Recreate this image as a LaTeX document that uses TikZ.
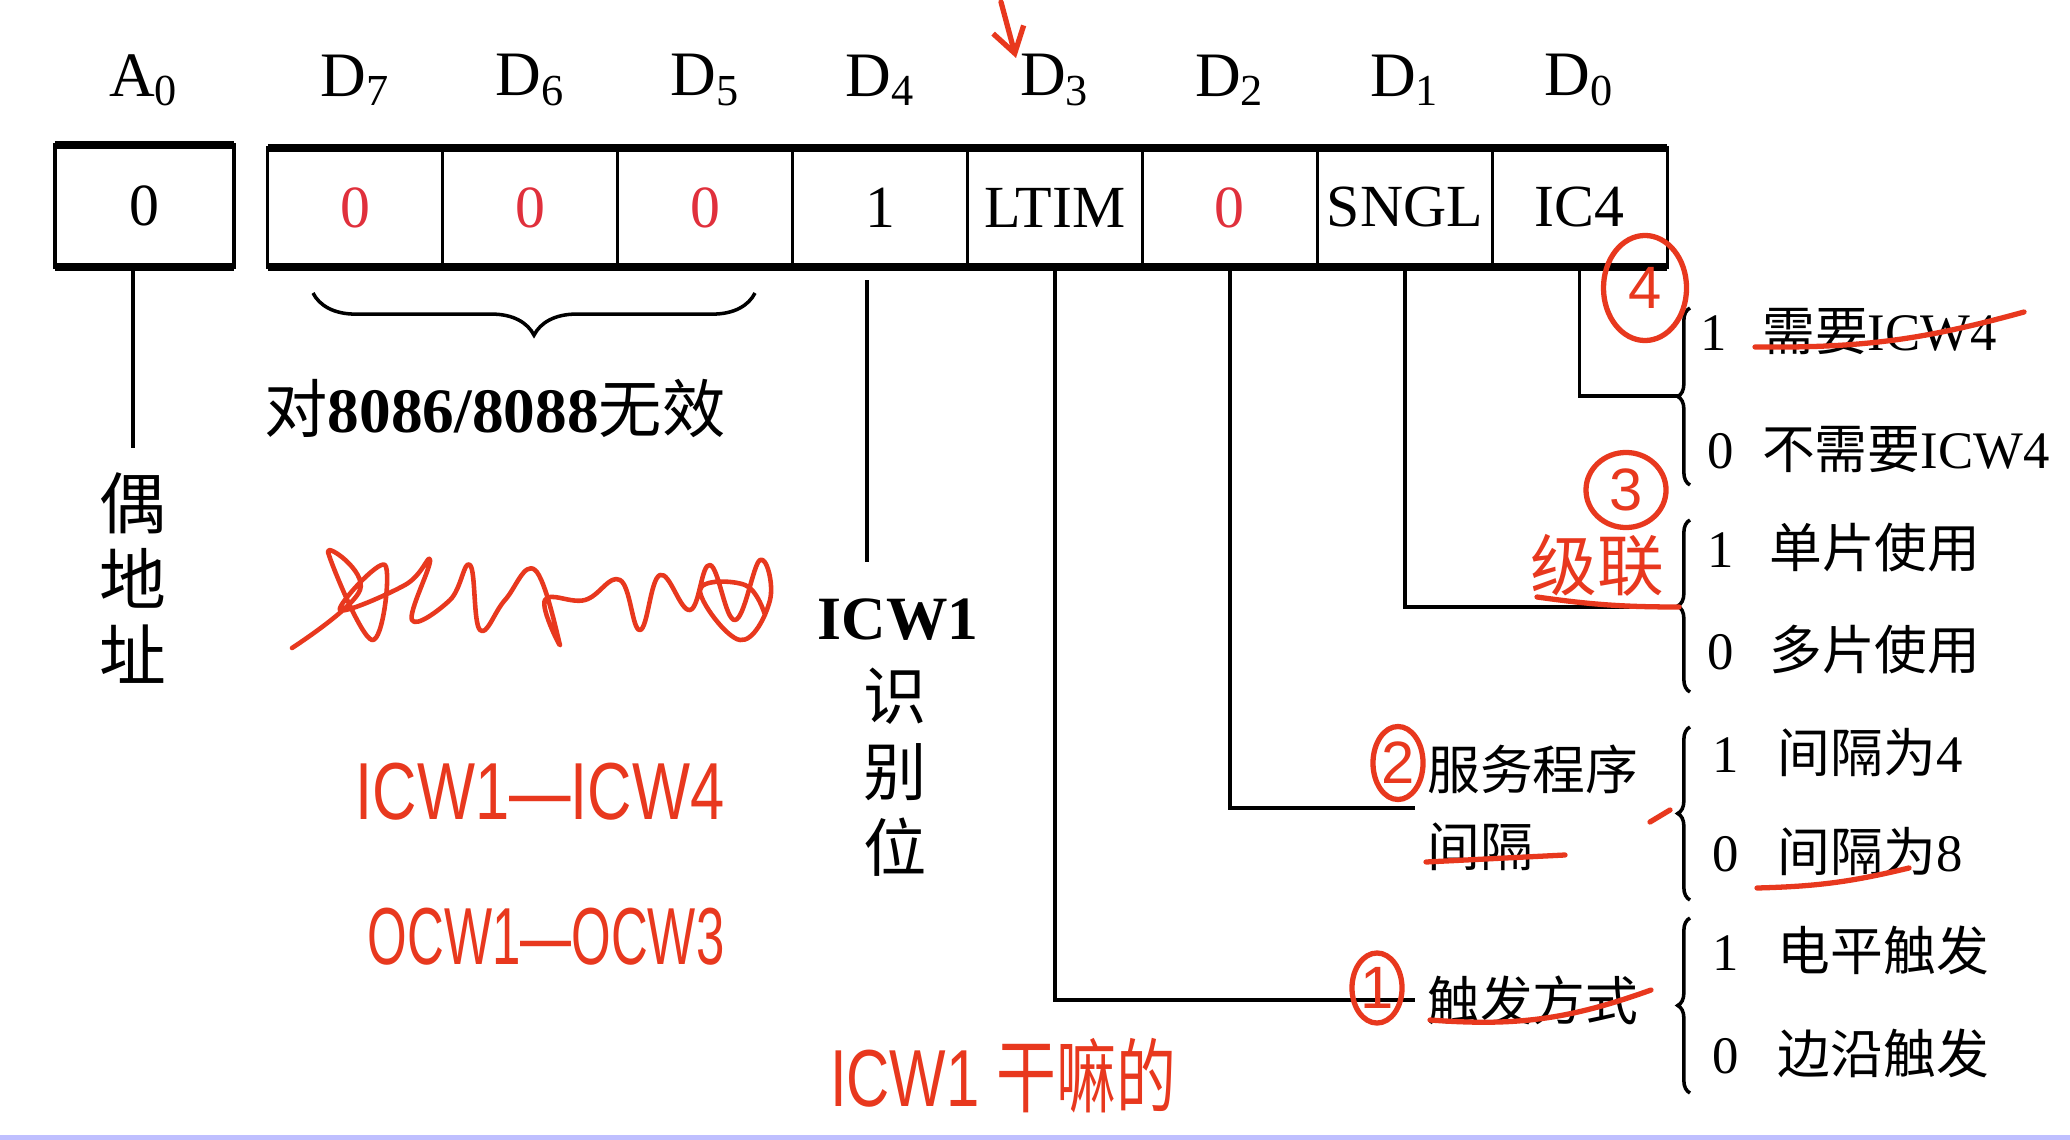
\documentclass[tikz,border=0pt]{standalone}
\usepackage{fontspec}
\setmainfont{Liberation Serif}
\newfontfamily\cjk{Noto Sans CJK SC}
\newfontfamily\hand{Liberation Sans}
\usetikzlibrary{decorations.pathreplacing,shapes.geometric,arrows.meta}
\definecolor{zerored}{HTML}{E0303C}
\definecolor{penred}{HTML}{E8381E}
\newcommand{\redzero}{\textcolor{zerored}{0}}

\begin{document}
\begin{tikzpicture}[x=0.01cm,y=-0.01cm]
    \tikzset{
        bitlabel/.style={font=\fontsize{18}{20}\selectfont},
        cell/.style={draw, line width=0.9pt, minimum width=1.749cm, minimum height=1.19cm,
            inner sep=0pt, outer sep=0pt, font=\fontsize{17}{19}\selectfont},
        rule/.style={line width=2.2pt},
        conn/.style={line width=1pt},
        vtext/.style={align=center, font=\cjk\fontsize{19}{21.6}\selectfont},
        lbl/.style={anchor=west, align=left, font=\cjk\fontsize{15}{22}\selectfont},
        opt/.style={anchor=west, inner sep=0pt, font=\fontsize{15}{17}\selectfont},
        rbrace/.style={line width=1pt, decorate, decoration={brace, amplitude=3.5pt}},
        pen/.style={penred, line width=1.5pt, line cap=round, line join=round},
        ring/.style={ellipse, draw=penred, line width=1.5pt, text=penred, inner sep=0pt,
            font=\hand\fontsize{17}{19}\selectfont},
        handtext/.style={text=penred, font=\hand\fontsize{23}{25}\selectfont}
    }
    \useasboundingbox (0,0) rectangle (2070,1140);
    \fill[white] (0,0) rectangle (2070,1140);
    \fill[blue!25] (0,1135) rectangle (2070,1140);

    % bit names
    \node[bitlabel] (laba) at (144,80) {A\textsubscript{0}};
    \foreach \nm/\x in {7/355.4, 6/530.3, 5/705.2, 4/880.1, 3/1055.0, 2/1229.9, 1/1404.8, 0/1579.7}
        \node[bitlabel] (lab\nm) at (\x,80) {D\textsubscript{\nm}};

    % the register
    \node[cell, minimum width=1.79cm, minimum height=1.22cm] (a0) at (144.5,206) {0};
    \foreach \nm/\x/\val in {d7/355.4/\redzero, d6/530.3/\redzero, d5/705.2/\redzero, d4/880.1/1,
            d3/1055.0/LTIM, d2/1229.9/\redzero, d1/1404.8/SNGL, d0/1579.7/IC4}
        \node[cell] (\nm) at (\x,207.5) {\val};
    \draw[rule] (a0.north west) -- (a0.north east);
    \draw[rule] (a0.south west) -- (a0.south east);
    \draw[rule] (d7.north west) -- (d0.north east);
    \draw[rule] (d7.south west) -- (d0.south east);

    % D7-D5
    \draw[line width=1pt, decorate, decoration={brace, mirror, amplitude=12pt}] (313,293) -- (755,293);
    \node[font=\fontsize{18}{20}\selectfont] (nouse) at (495,409) {{\cjk 对}\textbf{8086/8088}{\cjk 无效}};

    % A0
    \node[vtext] (even) at (133,578) {偶\\地\\址};
    \draw[conn] (even.north |- a0.south) -- ([yshift=0.12cm]even.north);

    % D4
    \node[font=\bfseries\fontsize{17.5}{19}\selectfont] (icw1) at (898,620) {ICW1};
    \node[vtext, font=\cjk\fontsize{18}{21.6}\selectfont] (idbit) at (895,772) {识\\别\\位};
    \draw[conn, shorten <=0.13cm, shorten >=0.25cm] ([xshift=-0.13cm]d4.south) -- ([xshift=-0.13cm]d4.south |- icw1.north);

    % D3, D2
    \node[lbl] (trig) at (1415,1000) {触发方式};
    \node[lbl] (serv) at (1415,808) {服务程序\\间隔};
    \draw[conn] (d3.south) |- (trig.west);
    \draw[conn] (d2.south) |- (serv.west);

    % D1, D0 and the braces
    \coordinate (tip1) at (1679,396);
    \coordinate (tip2) at (1679,607);
    \coordinate (tip3) at (1679,813);
    \coordinate (tip4) at (1679,1005);
    \draw[rbrace] (1690,485) -- (1690,308);
    \draw[rbrace] (1690,692) -- (1690,520);
    \draw[rbrace] (1690,900) -- (1690,727);
    \draw[rbrace] (1690,1093) -- (1690,918);
    \draw[conn] (d0.south) |- (tip1);
    \draw[conn] (d1.south) |- (tip2);

    \node[opt] (ic4a) at (1700,332) {1\hspace{10pt}{\cjk 需要}ICW4};
    \node[opt] (ic4b) at (1707,450) {0\hspace{8pt}{\cjk 不需要}ICW4};
    \node[opt] (snga) at (1707,548) {1\hspace{10pt}{\cjk 单片使用}};
    \node[opt] (sngb) at (1707,650) {0\hspace{10pt}{\cjk 多片使用}};
    \node[opt] (adia) at (1712,753) {1\hspace{11pt}{\cjk 间隔为}4};
    \node[opt] (adib) at (1712,851) {0\hspace{11pt}{\cjk 间隔为}8};
    \node[opt] (ltma) at (1712,950) {1\hspace{11pt}{\cjk 电平触发}};
    \node[opt] (ltmb) at (1712,1053) {0\hspace{11pt}{\cjk 边沿触发}};

    % pen notes
    \draw[pen, -{Straight Barb[length=7pt, width=9pt]}] (1001,2) -- (1016,58);
    \node[ring, minimum width=0.83cm, minimum height=1.05cm] (n4) at (1645,288) {4};
    \node[ring, minimum width=0.8cm, minimum height=0.75cm] (n3) at (1626,490) {3};
    \node[ring, minimum width=0.5cm, minimum height=0.73cm] (n2) at (1398,763) {2};
    \node[ring, minimum width=0.5cm, minimum height=0.7cm] (n1) at (1377,988) {1};
    \node[handtext, font=\cjk\fontsize{19}{21}\selectfont] (casc) at (1597,565) {级联};
    \draw[pen] (1537,597) to[bend right=4] (tip2);
    \draw[pen] (1755,347) to[bend right=8] (2024,312);
    \draw[pen] (1426,862) -- (1565,855);
    \draw[pen] (1757,888) to[bend right=6] (1909,868);
    \draw[pen] (1430,1020) to[bend right=12] (1651,990);
    \draw[pen] (1650,822) -- (1670,810);

    \node[handtext] (icwrange) at (540,792) {\scalebox{0.76}[1]{ICW1—ICW4}};
    \node[handtext] (ocwrange) at (546,937) {\scalebox{0.63}[1]{OCW1—OCW3}};
    \node[handtext] (what) at (1003,1076) {\scalebox{0.74}[1]{ICW1 {\cjk 干嘛的}}};
    \draw[pen, line width=1.3pt] plot[smooth, tension=0.7] coordinates {
        (292,648) (360,590) (328,552) (372,640) (385,565) (340,610) (405,585)
        (430,560) (412,620) (450,600) (470,565) (480,630) (505,600) (535,570)
        (560,645) (545,600) (585,600) (620,580) (640,630) (660,575) (690,610)
        (710,565) (735,620) (760,560) (770,600) (740,640) (700,590) (745,585) (765,615)};
\end{tikzpicture}
\end{document}
